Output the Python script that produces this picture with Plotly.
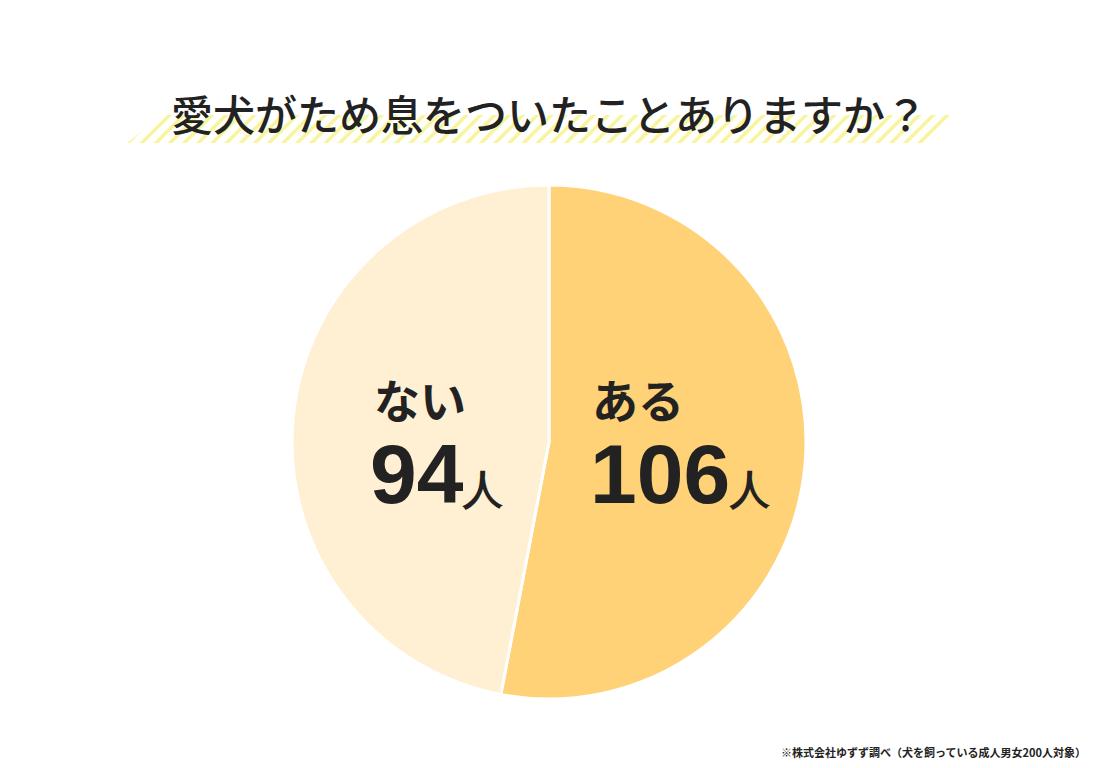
import plotly.graph_objects as go

labels = ["ある", "ない"]
values = [106, 94]
colors = ["#FFD278", "#FFF0D4"]
title = "愛犬がため息をついたことありますか？"
note = "※株式会社ゆずず調べ（犬を飼っている成人男女200人対象）"

W, H = 1100, 768
FONT = "Noto Sans CJK JP"
OFF = 8  # page offset of the plot in the browser

fig = go.Figure()

# hatched band under title
fig.add_trace(go.Scatter(
    x=[127, 162, 958, 923, 127], y=[143, 115, 115, 143, 143],
    mode="lines", fill="toself", line=dict(width=0),
    fillcolor="rgba(0,0,0,0)",
    fillpattern=dict(shape="/", fgcolor="#F2EA3C", bgcolor="white", size=10, solidity=0.35),
    hoverinfo="skip", showlegend=False, xaxis="x", yaxis="y"))

fig.add_trace(go.Pie(
    labels=labels, values=values, sort=False, direction="clockwise", rotation=0,
    marker=dict(colors=colors, line=dict(color="white", width=3)),
    textinfo="none", hoverinfo="skip", showlegend=False,
    domain=dict(x=[(292 - OFF) / W, (806 - OFF) / W], y=[1 - (699 - OFF) / H, 1 - (185 - OFF) / H])))

fig.add_annotation(x=549, y=112, text=title, showarrow=False,
                   font=dict(family=FONT, size=42, color="#222", weight=500), xref="x", yref="y")

# value labels
pos = [(638, 398, 680, 474), (420, 398, 437, 474)]
for (lx, ly, nx, ny), lab, v in zip(pos, labels, values):
    fig.add_annotation(x=lx, y=ly, text="<b>" + lab + "</b>", showarrow=False,
                       font=dict(family=FONT, size=46, color="#222"), xref="x", yref="y")
    fig.add_annotation(x=nx, y=ny, showarrow=False, xref="x", yref="y",
                       text="<b>%d</b><b><span style='font-size:40px'>人</span></b>" % v,
                       font=dict(family="Liberation Sans", size=84, color="#222"))

fig.add_annotation(x=1088, y=752, text="<b>" + note + "</b>", showarrow=False, xanchor="right",
                   font=dict(family=FONT, size=11, color="#222"), xref="x", yref="y")

fig.update_layout(
    width=W, height=H, margin=dict(l=0, r=0, t=0, b=0),
    paper_bgcolor="white", plot_bgcolor="rgba(0,0,0,0)",
    xaxis=dict(range=[OFF, W + OFF], visible=False, domain=[0, 1]),
    yaxis=dict(range=[H + OFF, OFF], visible=False, domain=[0, 1]))

fig.write_html("out.html")
